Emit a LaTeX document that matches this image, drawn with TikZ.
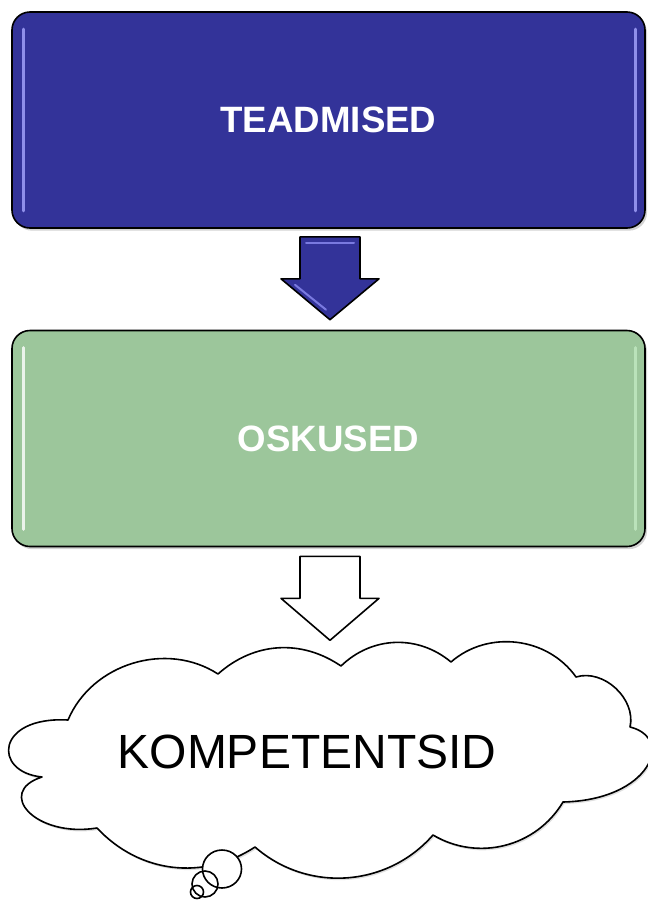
\documentclass[tikz,border=0pt]{standalone}
\usepackage{fontspec}
\setmainfont{Liberation Sans}
\usepackage{xcolor}
\usepackage{tikz}
\usetikzlibrary{positioning,calc,shadows}

\definecolor{teadBlue}{RGB}{51,51,153}
\definecolor{oskGreen}{RGB}{156,198,155}

\begin{document}
\begin{tikzpicture}[
				x=0.75pt,y=-0.75pt,
				line cap=round,line join=round,
				levelbox/.style={draw=black, line width=1.2pt, rounded corners=13.5pt,
					minimum width=474.75pt, minimum height=162pt,
					text=white, font=\fontsize{27.5}{30}\selectfont\bfseries,
					drop shadow={opacity=0.35, shadow xshift=1.5pt, shadow yshift=-2pt}},
				shine/.style={line width=2.2pt, opacity=0.8},
				blockarrow/.style={draw=black, line width=1.2pt}
				]
				% ---- canvas
				\useasboundingbox (0,0) rectangle (648,900);
				
				% ---- parameters
				\def\shaftW{30}     % pool noole varre laiusest
				\def\headW{49}      % pool noole pea laiusest
				
				% boxes
				\node[levelbox, fill=teadBlue] (teadmised) at (328.5,120) {TEADMISED};
				\node[levelbox, fill=oskGreen] (oskused) at (328.5,438.5) {OSKUSED};
				
				% glossy edge lines
				\draw[shine, color=blue!35!white] ($(teadmised.north west)+(12,18)$) -- ($(teadmised.south west)+(12,-18)$);
				\draw[shine, color=blue!35!white] ($(teadmised.north east)+(-10,18)$) -- ($(teadmised.south east)+(-10,-18)$);
				\draw[shine, color=white] ($(oskused.north west)+(12,18)$) -- ($(oskused.south west)+(12,-18)$);
				\draw[shine, color=green!15!white, opacity=0.5] ($(oskused.north east)+(-10,18)$) -- ($(oskused.south east)+(-10,-18)$);
				
				% block arrows between the levels
				\coordinate (a1) at ($(teadmised.south)+(1.5,8)$);
				\coordinate (t1) at ($(oskused.north)+(1.5,-10)$);
				\draw[blockarrow, fill=teadBlue]
					($(a1)+(-\shaftW,0)$) -- ($(a1)+(\shaftW,0)$) -- ($(a1)+(\shaftW,42)$)
					-- ($(a1)+(\headW,42)$) -- (t1) -- ($(a1)+(-\headW,42)$)
					-- ($(a1)+(-\shaftW,42)$) -- cycle;
				\draw[line width=1.5pt, blue!40!white, opacity=0.7]
					($(a1)+(-\shaftW+6,6)$) -- ($(a1)+(\shaftW-6,6)$);
				\draw[line width=1.5pt, blue!40!white, opacity=0.7]
					($(a1)+(-\headW+14,48)$) -- ($(t1)+(-4,-10)$);
				
				\coordinate (a2) at ($(oskused.south)+(1.5,9)$);
				\coordinate (t2) at ($(a2)+(0,84)$);
				\draw[blockarrow, fill=white]
					($(a2)+(-\shaftW,0)$) -- ($(a2)+(\shaftW,0)$) -- ($(a2)+(\shaftW,42)$)
					-- ($(a2)+(\headW,42)$) -- (t2) -- ($(a2)+(-\headW,42)$)
					-- ($(a2)+(-\shaftW,42)$) -- cycle;
				
				% cloud
				\draw[line width=1.2pt, fill=white,
					drop shadow={opacity=0.25, shadow xshift=1pt, shadow yshift=-1.5pt}]
					(68,720) to[bend left=50] (218,674) to[bend left=38] (341,666)
					to[bend left=42] (451,662) to[bend left=48] (576,677)
					to[bend left=60] (630,727)
					.. controls (675,738) and (650,800) .. (563,802)
					to[bend left=45] (433,835) to[bend left=45] (255,847)
					to[bend left=40] (97,828)
					.. controls (35,838) and (-5,792) .. (42,777)
					.. controls (-8,772) and (-4,716) .. (68,720) -- cycle;
				\node[font=\fontsize{36}{40}\selectfont] (kompetentsid) at (307,752) {KOMPETENTSID};
				
				% thought bubbles
				\draw[line width=1.2pt, fill=white] (222,869) ellipse[x radius=19.5, y radius=19];
				\draw[line width=1.2pt] (205,884) circle[radius=13];
				\draw[line width=1.2pt] (197,892) circle[radius=6.5];
			\end{tikzpicture}
\end{document}
